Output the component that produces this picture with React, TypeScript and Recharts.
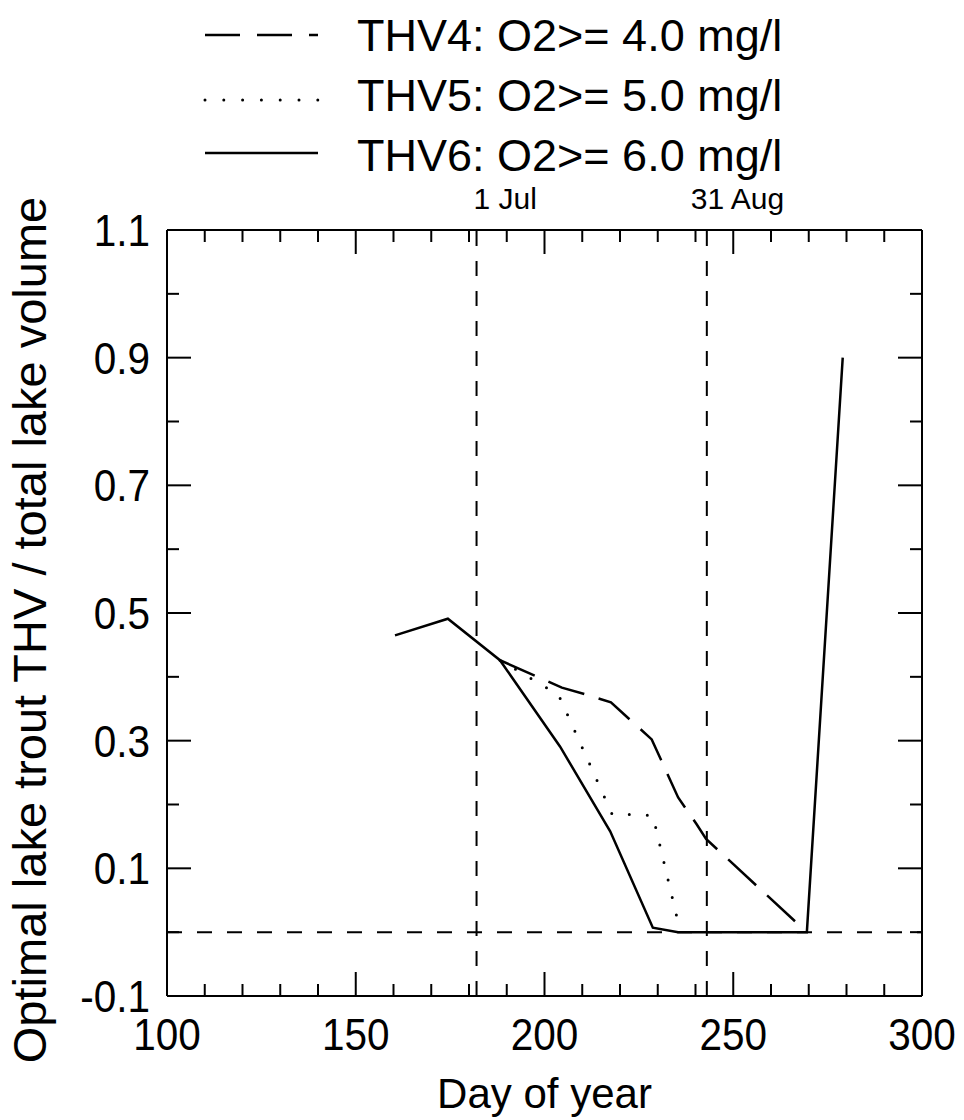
import React from 'react';
import { LineChart, Line, XAxis, YAxis, ReferenceLine } from 'recharts';

// ---------- data ----------
const thv4Days = [188.2, 204.6, 211.2, 217.6, 228.4, 235.4, 240.3, 242.8, 269.5];
const thv4Values = [0.426, 0.383, 0.372, 0.36, 0.302, 0.211, 0.169, 0.146, 0.0];

const thv5Days = [188.2, 203.7, 217.9, 228.7, 236.0];
const thv5Values = [0.426, 0.372, 0.185, 0.183, 0.0];

const thv6Days = [160.4, 174.4, 188.2, 204.1, 217.4, 228.7, 235.4, 269.5, 279.0];
const thv6Values = [0.465, 0.491, 0.426, 0.291, 0.158, 0.007, 0.0, 0.0, 0.9];

const seriesNames = ['THV4: O2>= 4.0 mg/l', 'THV5: O2>= 5.0 mg/l', 'THV6: O2>= 6.0 mg/l'];

const xTicks = [100, 110, 120, 130, 140, 150, 160, 170, 180, 190, 200, 210, 220, 230, 240, 250, 260, 270, 280, 290, 300];
const yTicks = [-0.1, 0, 0.1, 0.2, 0.3, 0.4, 0.5, 0.6, 0.7, 0.8, 0.9, 1.0, 1.1];

const markerDays = [182, 243];
const markerLabels = ['1 Jul', '31 Aug'];
const zeroLine = 0;

const xTitle = 'Day of year';
const yTitle = 'Optimal lake trout THV / total lake volume';

// ---------- styles ----------
const FONT = '"Liberation Sans", Arial, Helvetica, sans-serif';
const W = 964;
const H = 1120;
const AX = 1; // axis box size
const margin = { top: 230 - AX, right: 42 - AX, bottom: 124 - AX, left: 167 - AX };
const dashStyles = ['38 15', '0 18', undefined];
const markerDx = [-3, -16];
const TICK_FS = 45;
const TICK_SX = 0.9;

const toRows = (days: number[], vals: number[]) => days.map((d, i) => ({ day: d, v: vals[i] }));
const thv4 = toRows(thv4Days, thv4Values);
const thv5 = toRows(thv5Days, thv5Values);
const thv6 = toRows(thv6Days, thv6Values);

const isMajorX = (v: number) => v % 50 === 0;
const isMajorY = (v: number) => Math.abs(Math.round(v * 10)) % 2 === 1;
const xEdge = (v: number) => v === 100 || v === 300;
const yEdge = (v: number) => Math.abs(v + 0.1) < 1e-6 || Math.abs(v - 1.1) < 1e-6;

const NumText = ({ x, y, anchor, children }: any) => (
  <text
    x={0}
    y={0}
    transform={`translate(${x}, ${y}) scale(${TICK_SX}, 1)`}
    textAnchor={anchor}
    fontSize={TICK_FS}
    fontFamily={FONT}
    fill="#000"
  >
    {children}
  </text>
);

const BottomTick = (p: any) => {
  const { x, y, payload } = p;
  const v = payload.value;
  const len = isMajorX(v) ? 24 : 12;
  return (
    <g>
      {!xEdge(v) && <line x1={x} x2={x} y1={y} y2={y - len} stroke="#000" strokeWidth={2} />}
      {isMajorX(v) && (
        <NumText x={x} y={y + 54} anchor="middle">
          {v}
        </NumText>
      )}
    </g>
  );
};

const TopTick = (p: any) => {
  const { x, y, payload } = p;
  const v = payload.value;
  const len = isMajorX(v) ? 24 : 12;
  return <g>{!xEdge(v) && <line x1={x} x2={x} y1={y} y2={y + len} stroke="#000" strokeWidth={2} />}</g>;
};

const LeftTick = (p: any) => {
  const { x, y, payload } = p;
  const v = payload.value;
  const major = isMajorY(v);
  const len = major ? 24 : 12;
  return (
    <g>
      {!yEdge(v) && <line x1={x} x2={x + len} y1={y} y2={y} stroke="#000" strokeWidth={2} />}
      {major && (
        <NumText x={x - 17} y={y + 16} anchor="end">
          {v.toFixed(1)}
        </NumText>
      )}
    </g>
  );
};

const RightTick = (p: any) => {
  const { x, y, payload } = p;
  const v = payload.value;
  const len = isMajorY(v) ? 24 : 12;
  return <g>{!yEdge(v) && <line x1={x} x2={x - len} y1={y} y2={y} stroke="#000" strokeWidth={2} />}</g>;
};

const XTitle = (p: any) => {
  const vb = p && p.viewBox && typeof p.viewBox.x === 'number' ? p.viewBox : { x: 167, y: 996, width: 755 };
  return (
    <text x={vb.x + vb.width / 2} y={996 + 112} textAnchor="middle" fontSize={42} fontFamily={FONT} fill="#000">
      {xTitle}
    </text>
  );
};

const YTitle = () => {
  const cx = 46;
  const cy = 630;
  return (
    <text x={cx} y={cy} transform={`rotate(-90, ${cx}, ${cy})`} textAnchor="middle" fontSize={47} fontFamily={FONT} fill="#000">
      {yTitle}
    </text>
  );
};

const markerLabel = (i: number) => (p: any) => {
  const vb = p && p.viewBox ? p.viewBox : { x: 0, y: 230 };
  return (
    <text x={vb.x + markerDx[i]} y={209} textAnchor="start" fontSize={30} fontFamily={FONT} fill="#000">
      {markerLabels[i]}
    </text>
  );
};

const axisLine = { stroke: '#000', strokeWidth: 2 };

const LegendOverlay = () => {
  const rows = [35, 100, 153];
  return (
    <svg width={W} height={190} style={{ position: 'absolute', left: 0, top: 0, pointerEvents: 'none' }}>
      {seriesNames.map((name, i) => (
        <g key={name}>
          <line
            x1={205}
            x2={318}
            y1={rows[i]}
            y2={rows[i]}
            stroke="#000"
            strokeWidth={i === 1 ? 3 : 2.5}
            strokeDasharray={i === 0 ? '35 17' : i === 1 ? '0 18.8' : undefined}
            strokeLinecap={i === 1 ? 'round' : 'butt'}
          />
          <text x={357} y={[51, 111, 171][i]} fontSize={45} fontFamily={FONT} fill="#000">
            {name}
          </text>
        </g>
      ))}
    </svg>
  );
};

export default function App() {
  return (
    <div style={{ position: 'absolute', left: 0, top: 0, width: W, height: H, background: '#fff' }}>
      <LineChart width={W} height={H} margin={margin}>
        <XAxis
          xAxisId="bottom"
          type="number"
          dataKey="day"
          domain={[100, 300]}
          ticks={xTicks}
          interval={0}
          height={AX}
          tickSize={0}
          tickMargin={0}
          tickLine={false}
          axisLine={axisLine}
          tick={BottomTick}
          allowDataOverflow
          label={XTitle}
        />
        <XAxis
          xAxisId="top"
          orientation="top"
          type="number"
          dataKey="day"
          domain={[100, 300]}
          ticks={xTicks}
          interval={0}
          height={AX}
          tickSize={0}
          tickMargin={0}
          tickLine={false}
          axisLine={axisLine}
          tick={TopTick}
          allowDataOverflow
        />
        <YAxis
          yAxisId="left"
          type="number"
          dataKey="v"
          domain={[-0.1, 1.1]}
          ticks={yTicks}
          interval={0}
          width={AX}
          tickSize={0}
          tickMargin={0}
          tickLine={false}
          axisLine={axisLine}
          tick={LeftTick}
          allowDataOverflow
          label={YTitle}
        />
        <YAxis
          yAxisId="right"
          orientation="right"
          type="number"
          dataKey="v"
          domain={[-0.1, 1.1]}
          ticks={yTicks}
          interval={0}
          width={AX}
          tickSize={0}
          tickMargin={0}
          tickLine={false}
          axisLine={axisLine}
          tick={RightTick}
          allowDataOverflow
        />
        {markerDays.map((d, i) => (
          <ReferenceLine
            key={d}
            x={d}
            xAxisId="bottom"
            yAxisId="left"
            stroke="#000"
            strokeWidth={2}
            strokeDasharray="15 15"
            label={markerLabel(i)}
          />
        ))}
        <ReferenceLine y={zeroLine} xAxisId="bottom" yAxisId="left" stroke="#000" strokeWidth={2} strokeDasharray="15 15" />
        <Line
          data={thv4}
          xAxisId="bottom"
          yAxisId="left"
          dataKey="v"
          name={seriesNames[0]}
          type="linear"
          stroke="#000"
          strokeWidth={2.5}
          strokeDasharray={dashStyles[0]}
          dot={false}
          activeDot={false}
          isAnimationActive={false}
        />
        <Line
          data={thv5}
          xAxisId="bottom"
          yAxisId="left"
          dataKey="v"
          name={seriesNames[1]}
          type="linear"
          stroke="#000"
          strokeWidth={3}
          strokeDasharray={dashStyles[1]}
          strokeLinecap="round"
          dot={false}
          activeDot={false}
          isAnimationActive={false}
        />
        <Line
          data={thv6}
          xAxisId="bottom"
          yAxisId="left"
          dataKey="v"
          name={seriesNames[2]}
          type="linear"
          stroke="#000"
          strokeWidth={2.5}
          dot={false}
          activeDot={false}
          isAnimationActive={false}
        />
      </LineChart>
      <LegendOverlay />
    </div>
  );
}
